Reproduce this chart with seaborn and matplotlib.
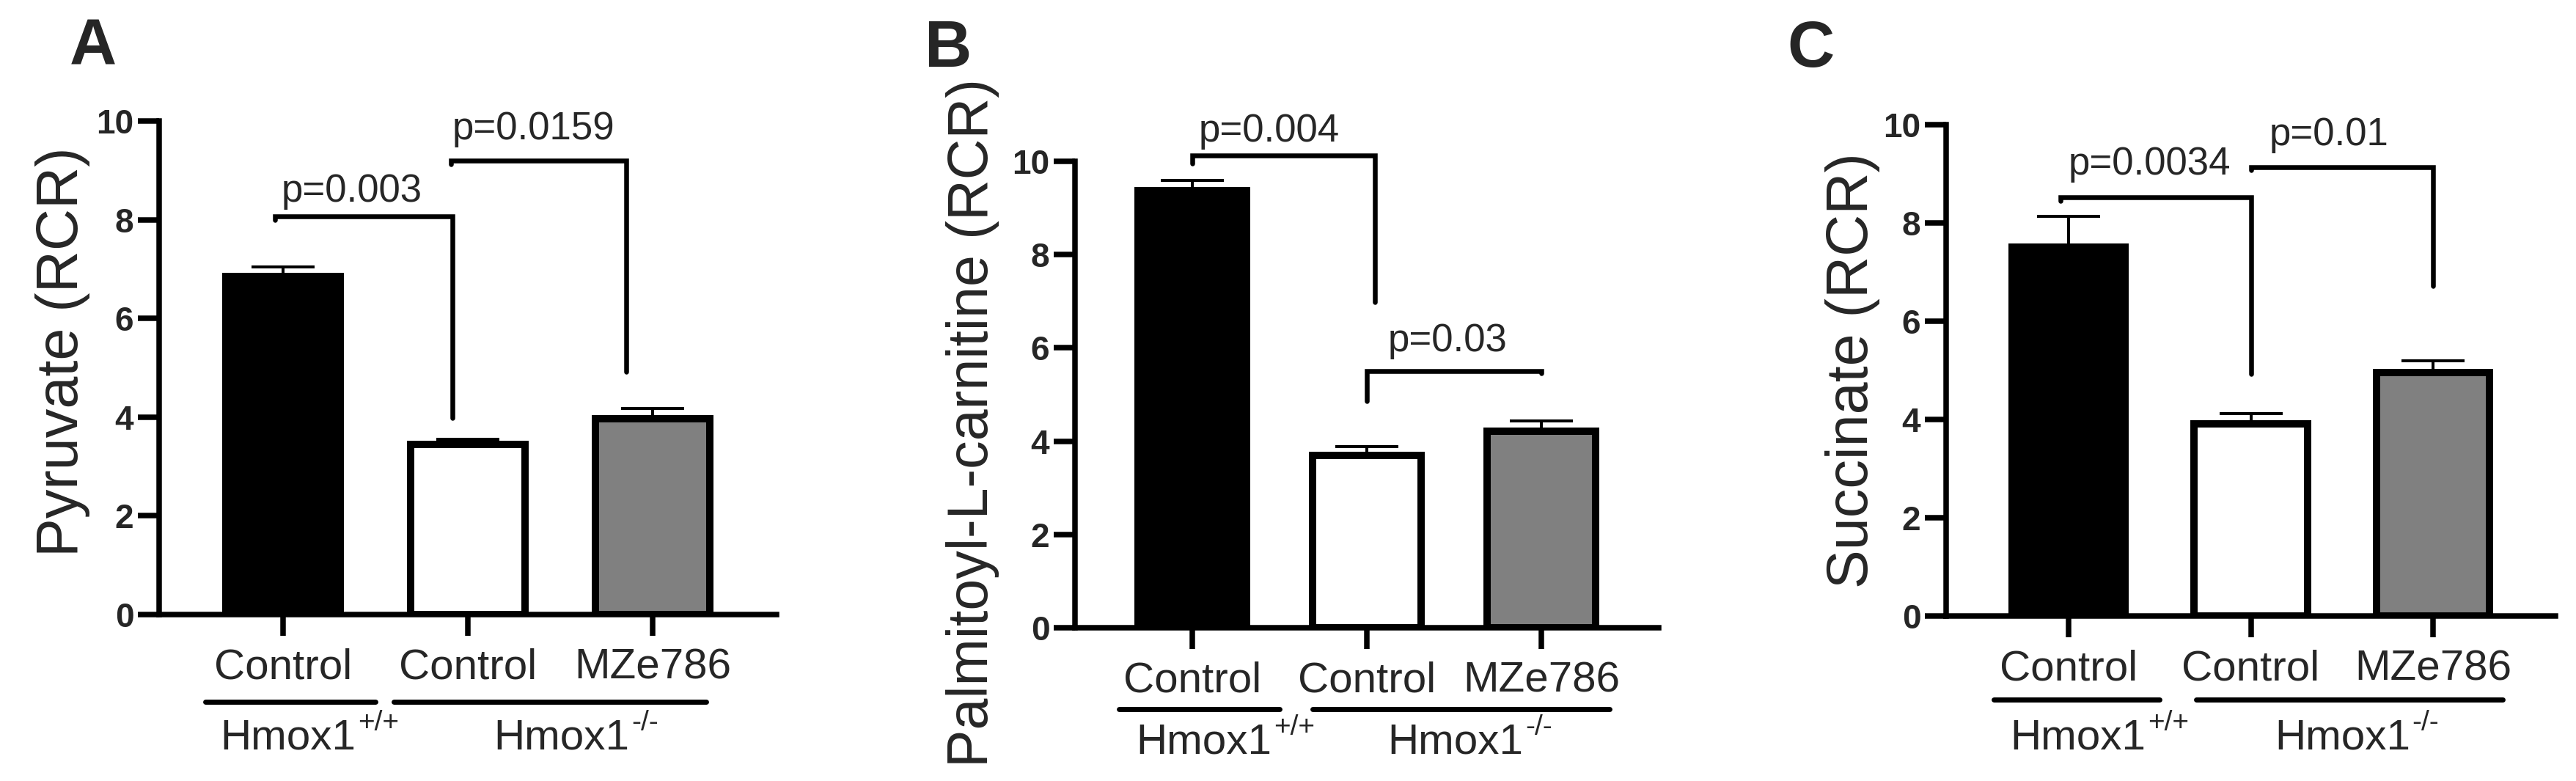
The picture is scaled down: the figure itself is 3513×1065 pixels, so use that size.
import matplotlib

matplotlib.use("Agg")
import matplotlib.pyplot as plt
import matplotlib.transforms as mtransforms
import numpy as np
import pandas as pd
import seaborn as sns

# ---- data ----
groups = ["Hmox1+/+ Control", "Hmox1-/- Control", "Hmox1-/- MZe786"]
tick_labels = ["Control", "Control", "MZe786"]
genotypes = [("Hmox1", "+/+"), ("Hmox1", "-/-")]
bar_colors = ["#000000", "#ffffff", "#808080"]

pyruvate_mean = [6.85, 3.45, 3.97]
pyruvate_sem = [0.19, 0.10, 0.21]
palmitoyl_mean = [9.37, 3.69, 4.22]
palmitoyl_sem = [0.22, 0.20, 0.21]
succinate_mean = [7.51, 3.91, 4.96]
succinate_sem = [0.62, 0.21, 0.24]

panel_letters = ["A", "B", "C"]
y_titles = ["Pyruvate (RCR)", "Palmitoyl-L-carnitine (RCR)", "Succinate (RCR)"]
y_ticks = [0, 2, 4, 6, 8, 10]

# p-value brackets: label, x left, x right, bar height, left end, right end, text x, text baseline
brackets_a = [("p=0.003", -0.044, 0.915, 8.07, 8.00, 3.98, 0.374, 8.37),
              ("p=0.0159", 0.907, 1.855, 9.20, 9.13, 4.92, 1.356, 9.63)]
brackets_b = [("p=0.004", 0.0, 1.046, 10.13, 9.95, 6.98, 0.44, 10.42),
              ("p=0.03", 1.0, 2.0, 5.50, 4.86, 5.45, 1.46, 5.93)]
brackets_c = [("p=0.0034", -0.045, 1.0, 8.52, 8.45, 4.93, 0.445, 8.98),
              ("p=0.01", 1.0, 2.0, 9.13, 9.08, 6.72, 1.43, 9.58)]

# ---- layout (pixels of the 3513x1065 canvas) ----
W, H, DPI = 3513, 1065, 100
panels = [
    dict(mean=pyruvate_mean, sem=pyruvate_sem, brackets=brackets_a, box=(217, 1059, 165, 838),
         ylabel_size=57, labelpad=6, label_y=0.533, group_lines=[(-0.42, 0.50), (0.60, 2.29)],
         geno_x=[-0.34, 1.14], line_off=119, geno_off=184, letter_xy=(127, 66)),
    dict(mean=palmitoyl_mean, sem=palmitoyl_sem, brackets=brackets_b, box=(1466, 2262, 220, 856),
         ylabel_size=55.5, labelpad=12, label_y=0.44, group_lines=[(-0.42, 0.50), (0.69, 2.39)],
         geno_x=[-0.32, 1.12], line_off=111, geno_off=171, letter_xy=(1293, 68)),
    dict(mean=succinate_mean, sem=succinate_sem, brackets=brackets_c, box=(2654, 3485, 170, 840),
         ylabel_size=57, labelpad=3, label_y=0.5, group_lines=[(-0.41, 0.50), (0.70, 2.38)],
         geno_x=[-0.32, 1.13], line_off=114, geno_off=182, letter_xy=(2469, 68)),
]

sns.set_style("ticks")
plt.rcParams["font.family"] = ["Liberation Sans", "DejaVu Sans"]

AX_LW = 5.4
fig = plt.figure(figsize=(W / DPI, H / DPI), dpi=DPI)

for i, p in enumerate(panels):
    x0, x1, y10, y0 = p["box"]
    ax = fig.add_axes([x0 / W, 1 - y0 / H, (x1 - x0) / W, (y0 - y10) / H])

    df = pd.DataFrame({"group": groups, "value": p["mean"]})
    sns.barplot(data=df, x="group", y="value", hue="group", order=groups, hue_order=groups,
                palette=bar_colors, saturation=1, width=0.62, edgecolor="black", linewidth=7.2,
                errorbar=None, legend=False, ax=ax, zorder=2)
    ax.errorbar(np.arange(3), p["mean"], yerr=[np.zeros(3), p["sem"]], fmt="none", ecolor="black",
                elinewidth=2.9, capsize=31, capthick=2.9, zorder=1)

    ax.set_xlim(-0.67, 2.67)
    ax.set_ylim(0, 10)
    ax.set_yticks(y_ticks, [str(t) for t in y_ticks], fontsize=33, fontweight="bold")
    ax.set_xticks(range(3), tick_labels, fontsize=42)
    ax.tick_params(axis="both", length=21, width=AX_LW, color="black")
    ax.tick_params(axis="y", pad=4)
    ax.tick_params(axis="x", pad=12)
    sns.despine(ax=ax)
    for side in ("left", "bottom"):
        ax.spines[side].set_linewidth(AX_LW)
        ax.spines[side].set_color("black")
    ax.set_xlabel("")
    ax.set_ylabel(y_titles[i], fontsize=p["ylabel_size"], labelpad=p["labelpad"])
    ax.yaxis.label.set_y(p["label_y"])

    # significance brackets
    for label, xl, xr, yb, yl, yr, tx, ty in p["brackets"]:
        ax.plot([xl, xl, xr, xr], [yl, yb, yb, yr], color="black", lw=4.7,
                solid_capstyle="round", solid_joinstyle="miter", clip_on=False)
        ax.text(tx, ty, label, fontsize=38, ha="center", va="baseline", clip_on=False)

    # genotype grouping under the x labels
    line_tr = ax.get_xaxis_transform() + mtransforms.ScaledTranslation(0, -p["line_off"] / DPI, fig.dpi_scale_trans)
    geno_tr = ax.get_xaxis_transform() + mtransforms.ScaledTranslation(0, -p["geno_off"] / DPI, fig.dpi_scale_trans)
    for (gl, gr), gx, (base, sup) in zip(p["group_lines"], p["geno_x"], genotypes):
        ax.plot([gl, gr], [0, 0], transform=line_tr, color="black", lw=5.0,
                solid_capstyle="round", clip_on=False)
        t = ax.text(gx, 0, base, transform=geno_tr, fontsize=42, ha="left", va="baseline", clip_on=False)
        # superscript: baseline ~18 pt above the main baseline (bbox bottom sits one descent lower)
        ax.annotate(sup, xy=(1, 0), xycoords=t, xytext=(2, 27), textcoords="offset points",
                    fontsize=28, ha="left", va="baseline", annotation_clip=False)

    lx, ly = p["letter_xy"]
    fig.text(lx / W, 1 - ly / H, panel_letters[i], fontsize=64, fontweight="bold", ha="center", va="center")

fig.savefig("out.png", dpi=DPI, facecolor="white")
